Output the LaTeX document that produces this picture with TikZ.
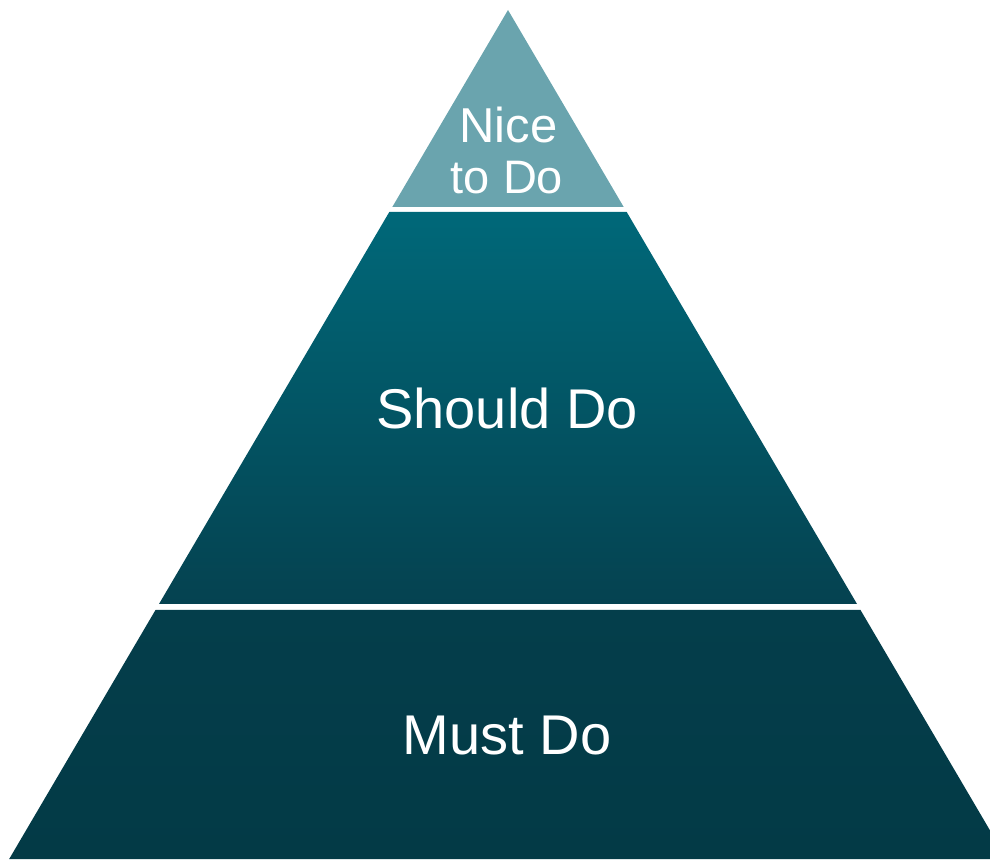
\documentclass[tikz,border=0pt]{standalone}
\usepackage{fontspec}
\setmainfont{Liberation Sans}
\definecolor{tiertop}{RGB}{106,164,174}
\definecolor{midtop}{RGB}{0,104,121}
\definecolor{midbot}{RGB}{5,66,80}
\definecolor{bottop}{RGB}{4,62,75}
\definecolor{botbot}{RGB}{3,58,70}
\tikzset{
  tiertext/.style={text=white, inner sep=0pt},
}
\begin{document}
\begin{tikzpicture}[x=1pt,y=1pt]
\useasboundingbox (0,0) rectangle (990,859);
% coordinates: y_tikz = 859 - y_px ; half width = 0.5875*(y_px - 10)
\begin{scope}
\clip (0,0) rectangle (990,859);
% top tier
\fill[tiertop] (508,849) -- (623.7,652) -- (392.3,652) -- cycle;
% middle tier
\shade[top color=midtop, bottom color=midbot]
  (389.3,647) -- (626.7,647) -- (857,255) -- (159,255) -- cycle;
% bottom tier
\shade[top color=bottop, bottom color=botbot]
  (155.5,249) -- (860.5,249) -- (1006.8,0) -- (9.2,0) -- cycle;
\end{scope}
\node[tiertext, anchor=base, font=\fontsize{49}{51}\selectfont] (nice) at (508.5,716) {Nice};
\node[tiertext, anchor=base, font=\fontsize{47}{51}\selectfont] (todo) at (507,665) {to Do};
\node[tiertext, font=\fontsize{56}{60}\selectfont] (should) at (507,451) {Should Do};
\node[tiertext, font=\fontsize{56}{60}\selectfont] (must) at (507,123) {Must Do};
\end{tikzpicture}
\end{document}
